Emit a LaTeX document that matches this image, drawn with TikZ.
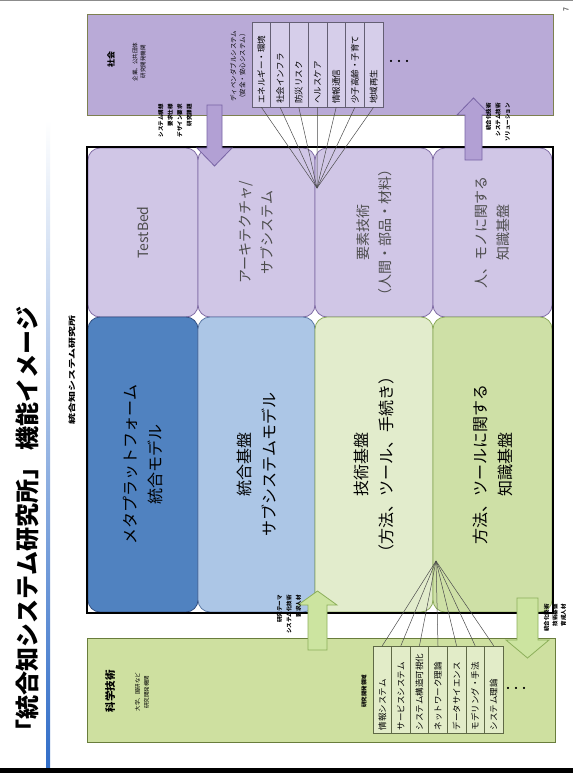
\documentclass[tikz,border=0pt]{standalone}
\usepackage{fontspec}
\setmainfont{Noto Sans CJK JP}
\definecolor{purF}{RGB}{208,198,230}
\definecolor{purD}{RGB}{128,108,165}
\definecolor{socF}{RGB}{185,170,215}
\definecolor{socD}{RGB}{125,128,80}
\definecolor{bdF}{RGB}{80,130,192}
\definecolor{bdD}{RGB}{50,80,130}
\definecolor{blF}{RGB}{172,198,230}
\definecolor{blD}{RGB}{90,120,165}
\definecolor{glF}{RGB}{226,236,204}
\definecolor{gmF}{RGB}{206,224,166}
\definecolor{gD}{RGB}{140,170,90}
\definecolor{sciF}{RGB}{206,224,160}
\definecolor{sciD}{RGB}{105,125,60}
\definecolor{tsF}{RGB}{214,206,234}
\definecolor{tsD}{RGB}{100,95,115}
\definecolor{tgF}{RGB}{226,236,200}
\definecolor{tgD}{RGB}{95,105,70}
\definecolor{apF}{RGB}{178,160,212}
\definecolor{apD}{RGB}{120,100,165}
\definecolor{agF}{RGB}{204,228,160}
\definecolor{agD}{RGB}{140,175,90}
\definecolor{lineB}{RGB}{50,110,200}
\tikzset{
  cell/.style={rotate=90, rounded corners=12pt, line width=0.8pt, inner sep=0pt, align=center},
  upcell/.style={cell, draw=purD, fill=purF, text=black!70, font=\fontsize{14}{22}\selectfont, minimum width=169pt},
  lowcell/.style={cell, font=\fontsize{16}{25}\selectfont, minimum width=295pt},
  scol/.style={rotate=90, draw=tsD, fill=tsF, line width=0.5pt, minimum width=85pt, minimum height=18.71pt, text width=79pt, inner xsep=3pt, inner ysep=0pt, align=left, font=\fontsize{8.5}{9}\selectfont},
  gcol/.style={rotate=90, draw=tgD, fill=tgF, line width=0.5pt, minimum width=87pt, minimum height=18.57pt, text width=81pt, inner xsep=3pt, inner ysep=0pt, align=left, font=\fontsize{8.5}{9}\selectfont},
  conn/.style={draw=black!70, line width=0.5pt},
  parrow/.style={draw=apD, fill=apF, line width=0.8pt},
  garrow/.style={draw=agD, fill=agF, line width=0.8pt},
  lab/.style={rotate=90, font=\bfseries\fontsize{5.5}{9.5}\selectfont, align=right, anchor=east, inner sep=0pt},
  bigbox/.style={line width=1.2pt, inner sep=0pt, anchor=north west}
}
\begin{document}
\begin{tikzpicture}[x=1pt,y=-1pt]
\useasboundingbox (0,0) rectangle (573,773);
\fill[white] (0,0) rectangle (573,773);
\fill[black!45] (0,0) rectangle (573,1.5);
\fill[black] (0,768) rectangle (573,773);
\shade[top color=white, bottom color=lineB] (46,120) rectangle (50,767);

% title
\node[rotate=90, font=\bfseries\fontsize{24}{28}\selectfont] (title) at (27,525) {「統合知システム研究所」 機能イメージ};
\node[rotate=90, font=\fontsize{7}{8}\selectfont] (pg) at (566,10) {7};

% society
\node[bigbox, draw=socD, fill=socF, minimum width=466pt, minimum height=101pt] (soc) at (87,14) {};
\node[rotate=90, font=\bfseries\fontsize{8}{9}\selectfont] (socT) at (111,60) {社会};
\node[rotate=90, font=\fontsize{5.5}{8}\selectfont, align=center] (socS) at (139,62) {企業、公共団体\\研究開発機関};
\node[rotate=90, font=\fontsize{6.5}{9}\selectfont, align=center] (socH) at (238,66) {ディペンダブルシステム\\（安全・安心システム）};
\foreach \t [count=\i] in {エネルギー・環境,社会インフラ,防災リスク,ヘルスケア,情報通信,少子高齢・子育て,地域再生}{
  \pgfmathsetmacro{\cx}{252+18.71*(\i-0.5)}
  \node[scol] (s\i) at (\cx,64.5) {\t};
}
\node[font=\bfseries\fontsize{8}{8}\selectfont] (sdots) at (399,62) {・・・};

% science
\node[bigbox, draw=sciD, fill=sciF, minimum width=468pt, minimum height=104pt] (sci) at (87,638) {};
\node[rotate=90, font=\bfseries\fontsize{10.5}{12}\selectfont] (sciT) at (110,691) {科学技術};
\node[rotate=90, font=\fontsize{5.5}{9}\selectfont, align=center] (sciS) at (142,692) {大学、国研など\\研究開発機関};
\node[rotate=90, font=\bfseries\fontsize{5.5}{7}\selectfont] (sciH) at (364,691) {研究開発領域};
\foreach \t [count=\i] in {情報システム,サービスシステム,システム構造可視化,ネットワーク理論,データサイエンス,モデリング・手法,システム理論}{
  \pgfmathsetmacro{\cx}{373+18.57*(\i-0.5)}
  \node[gcol] (g\i) at (\cx,689.5) {\t};
}
\node[font=\bfseries\fontsize{8}{8}\selectfont] (gdots) at (516,689) {・・・};

% institute cells
\node[upcell, minimum height=110pt] (tb) at (143,232.5) {TestBed};
\node[upcell, minimum height=117pt] (arch) at (256.5,232.5) {アーキテクチャ/\\サブシステム};
\node[upcell, minimum height=118pt] (elem) at (374,232.5) {要素技術\\（人間・部品・材料）};
\node[upcell, minimum height=119pt] (knowP) at (492.5,232.5) {人、モノに関する\\知識基盤};
\node[lowcell, draw=bdD, fill=bdF, minimum height=110pt] (meta) at (143,464.5) {メタプラットフォーム\\統合モデル};
\node[lowcell, draw=blD, fill=blF, minimum height=117pt] (integ) at (256.5,464.5) {統合基盤\\サブシステムモデル};
\node[lowcell, draw=gD, fill=glF, minimum height=118pt] (tech) at (374,464.5) {技術基盤\\（方法、ツール、手続き）};
\node[lowcell, draw=gD, fill=gmF, minimum height=119pt] (knowM) at (492.5,464.5) {方法、ツールに関する\\知識基盤};
\node[draw=black, line width=1.6pt, minimum width=466pt, minimum height=466pt, inner sep=0pt] (frame) at (320,380) {};
\node[rotate=90, font=\bfseries\fontsize{11}{12}\selectfont] (frameT) at (72,370) {\scalebox{1}[0.65]{統合知システム研究所}};

% fan connectors
\coordinate (sconv) at (317,188);
\coordinate (gconv) at (436,561);
\foreach \i in {1,...,7}{
  \draw[conn] (s\i.west) -- (sconv);
  \draw[conn] (g\i.east) -- (gconv);
}

% block arrows
\draw[parrow] (207,105) -- (222,105) -- (222,148) -- (232,148) -- (214.5,166) -- (197,148) -- (207,148) -- cycle;
\draw[parrow] (465,160) -- (482,160) -- (482,115) -- (490,115) -- (473.5,98) -- (457,115) -- (465,115) -- cycle;
\draw[garrow] (308,650) -- (327,650) -- (327,605) -- (337,605) -- (317.5,591) -- (298,605) -- (308,605) -- cycle;
\draw[garrow] (517,598) -- (538,598) -- (538,640) -- (549,640) -- (527.5,658) -- (506,640) -- (517,640) -- cycle;

% arrow labels
\node[lab] (l1) at (175,104) {システム構想\\要求仕様\\デザイン要求\\研究課題};
\node[lab] (l2) at (498,103) {統合化技術\\システム技術\\ソリューション};
\node[lab] (l3) at (289,595) {研究テーマ\\システム化技術\\要求人材};
\node[lab, font=\bfseries\fontsize{5.5}{8.5}\selectfont] (l4) at (555,604) {統合化技術\\技術基盤\\育成人材};
\end{tikzpicture}
\end{document}
